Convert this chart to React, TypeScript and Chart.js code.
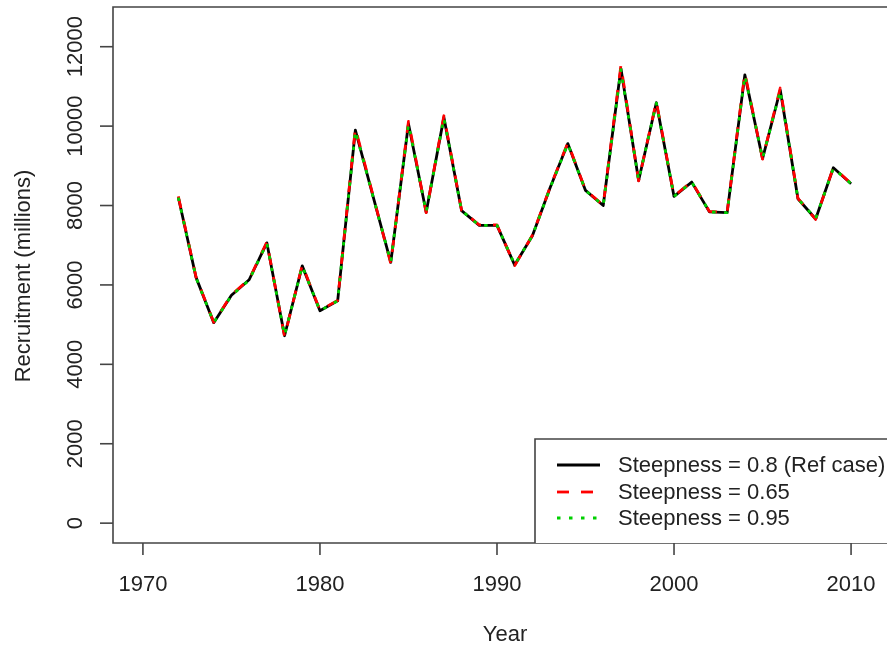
import { useEffect, useRef } from "react";
import { Chart, registerables } from "chart.js";

Chart.register(...registerables);

// Annual recruitment estimates (millions) under three stock-recruit steepness values
const years = [
  1972, 1973, 1974, 1975, 1976, 1977, 1978, 1979, 1980, 1981,
  1982, 1983, 1984, 1985, 1986, 1987, 1988, 1989, 1990, 1991,
  1992, 1993, 1994, 1995, 1996, 1997, 1998, 1999, 2000, 2001,
  2002, 2003, 2004, 2005, 2006, 2007, 2008, 2009, 2010,
];

const steep080 = [
  8210, 6190, 5050, 5740, 6130, 7060, 4720, 6480, 5350, 5600,
  9900, 8230, 6570, 10060, 7830, 10220, 7870, 7500, 7500, 6500,
  7240, 8450, 9560, 8380, 8000, 11450, 8630, 10590, 8230, 8590,
  7840, 7820, 11290, 9180, 10910, 8170, 7660, 8950, 8550,
];

const steep065 = [
  8230, 6200, 5060, 5750, 6140, 7080, 4700, 6500, 5360, 5610,
  9950, 8250, 6540, 10120, 7820, 10260, 7880, 7510, 7510, 6490,
  7250, 8460, 9580, 8390, 8010, 11530, 8620, 10620, 8240, 8600,
  7850, 7830, 11340, 9170, 10960, 8180, 7650, 8960, 8560,
];

const steep095 = [
  8200, 6180, 5050, 5730, 6120, 7050, 4730, 6470, 5350, 5600,
  9880, 8220, 6580, 10040, 7840, 10200, 7870, 7500, 7500, 6510,
  7240, 8440, 9550, 8380, 8000, 11420, 8640, 10580, 8230, 8590,
  7840, 7820, 11270, 9190, 10890, 8170, 7670, 8940, 8550,
];

const xTicks = [1970, 1980, 1990, 2000, 2010];
const yTicks = [0, 2000, 4000, 6000, 8000, 10000, 12000];

const seriesLabels = [
  "Steepness = 0.8 (Ref case)",
  "Steepness = 0.65",
  "Steepness = 0.95",
];
const seriesColors = ["#000000", "#ff0000", "#00d000"];
const seriesDashes: number[][] = [[], [12, 12], [3.5, 8.5]];

const xTitle = "Year";
const yTitle = "Recruitment (millions)";

const FONT = "22px 'Liberation Sans', Arial, sans-serif";
const TEXT = "#222222";
const AXIS = "#444444";
const LINE_W = 2.8;

const toPoints = (vals: number[]) => years.map((yr, i) => ({ x: yr, y: vals[i] }));

// Base-graphics style frame: box on three sides, outward ticks, rotated y labels, boxed legend
const frame = {
  id: "frame",
  afterDraw(chart: any) {
    const { ctx, chartArea, scales } = chart;
    const xs = scales.x;
    const ys = scales.y;
    const { left, top, bottom, right } = chartArea;
    ctx.save();
    ctx.strokeStyle = AXIS;
    ctx.lineWidth = 1.6;
    ctx.beginPath();
    ctx.moveTo(right + 10, top);
    ctx.lineTo(left, top);
    ctx.lineTo(left, bottom);
    ctx.lineTo(right + 10, bottom);
    ctx.stroke();

    ctx.font = FONT;
    ctx.fillStyle = TEXT;

    // y axis
    for (const v of yTicks) {
      const py = ys.getPixelForValue(v);
      ctx.beginPath();
      ctx.moveTo(left - 13, py);
      ctx.lineTo(left, py);
      ctx.stroke();
      ctx.save();
      ctx.translate(76, py);
      ctx.rotate(-Math.PI / 2);
      ctx.textAlign = "center";
      ctx.textBaseline = "middle";
      ctx.fillText(String(v), 0, 0);
      ctx.restore();
    }

    // x axis
    for (const v of xTicks) {
      const px = xs.getPixelForValue(v);
      ctx.beginPath();
      ctx.moveTo(px, bottom);
      ctx.lineTo(px, bottom + 12);
      ctx.stroke();
      ctx.textAlign = "center";
      ctx.textBaseline = "middle";
      ctx.fillText(String(v), px, 585);
    }

    // axis titles
    ctx.textAlign = "center";
    ctx.textBaseline = "middle";
    ctx.fillText(xTitle, 505, 635);
    ctx.save();
    ctx.translate(24, 276);
    ctx.rotate(-Math.PI / 2);
    ctx.fillText(yTitle, 0, 0);
    ctx.restore();

    // legend
    const lx = 535;
    const ly = 439;
    ctx.fillStyle = "#ffffff";
    ctx.fillRect(lx, ly, right + 20 - lx, bottom - ly);
    ctx.strokeStyle = AXIS;
    ctx.lineWidth = 1.6;
    ctx.beginPath();
    ctx.moveTo(right + 20, ly);
    ctx.lineTo(lx, ly);
    ctx.lineTo(lx, bottom);
    ctx.stroke();
    const rows = [465, 492, 518];
    seriesLabels.forEach((label, i) => {
      ctx.save();
      ctx.strokeStyle = seriesColors[i];
      ctx.lineWidth = LINE_W;
      ctx.lineCap = "butt";
      ctx.setLineDash(seriesDashes[i]);
      ctx.beginPath();
      ctx.moveTo(557, rows[i]);
      ctx.lineTo(600, rows[i]);
      ctx.stroke();
      ctx.restore();
      ctx.fillStyle = TEXT;
      ctx.textAlign = "left";
      ctx.textBaseline = "middle";
      ctx.fillText(label, 618, rows[i] + 1);
    });
    ctx.restore();
  },
};

export default function App() {
  const canvasRef = useRef<HTMLCanvasElement | null>(null);

  useEffect(() => {
    const canvas = canvasRef.current;
    if (!canvas) return;
    const allSeries = [steep080, steep065, steep095];
    const chart = new Chart(canvas, {
      type: "line",
      data: {
        datasets: allSeries.map((vals, i) => ({
          label: seriesLabels[i],
          data: toPoints(vals),
          borderColor: seriesColors[i],
          backgroundColor: seriesColors[i],
          borderWidth: LINE_W,
          borderDash: seriesDashes[i],
          borderCapStyle: "butt" as const,
          borderJoinStyle: "round" as const,
          pointRadius: 0,
          tension: 0,
          fill: false,
          order: 3 - i,
        })),
      },
      options: {
        animation: false,
        responsive: false,
        events: [],
        layout: { padding: { left: 113, top: 7, right: 0, bottom: 105 } },
        plugins: {
          legend: { display: false },
          tooltip: { enabled: false },
        },
        scales: {
          x: { type: "linear", display: false, min: 1968.31, max: 2012.03 },
          y: { type: "linear", display: false, min: -500, max: 13000 },
        },
      },
      plugins: [frame],
    });
    return () => chart.destroy();
  }, []);

  return (
    <div style={{ position: "absolute", left: 0, top: 0, width: 887, height: 648, background: "#fff" }}>
      <canvas ref={canvasRef} width={887} height={648} style={{ display: "block" }} />
    </div>
  );
}
